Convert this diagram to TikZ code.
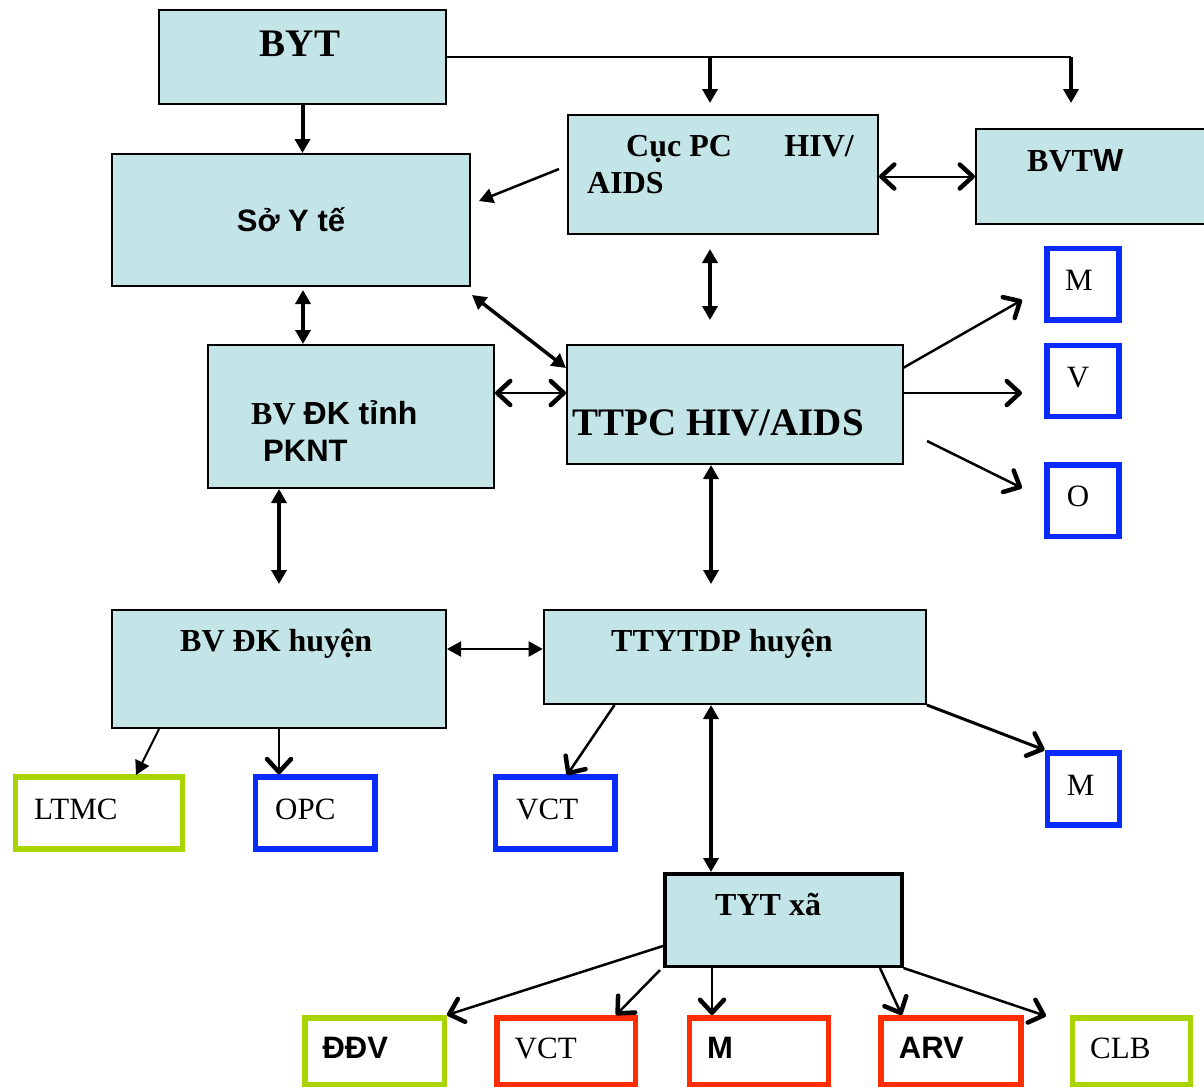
\documentclass[tikz,border=0pt]{standalone}
\usepackage{fontspec}
\setmainfont{Liberation Serif}
\setsansfont{Liberation Sans}
\usetikzlibrary{arrows.meta}
\definecolor{boxfill}{RGB}{196,229,232}
\definecolor{bblue}{RGB}{10,43,255}
\definecolor{bred}{RGB}{255,45,0}
\definecolor{bgreen}{RGB}{170,212,0}
\begin{document}
\begin{tikzpicture}[x=1pt,y=-1pt,
  cbox/.style={draw=black, line width=2pt, fill=boxfill, inner sep=0pt, rectangle},
  obox/.style={draw=#1, line width=5.5pt, fill=white, inner sep=0pt, rectangle},
  tx/.style={inner sep=0pt, anchor=base west},
  tc/.style={inner sep=0pt, anchor=base},
  tbig/.style={font=\bfseries\fontsize{39}{44}\selectfont},
  tb/.style={font=\bfseries\fontsize{32}{38}\selectfont},
  sb/.style={font=\sffamily\bfseries\fontsize{31}{36}\selectfont},
  tr/.style={font=\fontsize{31}{36}\selectfont},
  ln/.style={line width=2.5pt},
  thin/.style={line width=2pt},
  hv/.style={line width=4pt},
  ft/.style={-{Triangle[length=14pt,width=15pt]}},
  dft/.style={{Triangle[length=14pt,width=15pt]}-{Triangle[length=14pt,width=15pt]}},
  ob/.style={-{Straight Barb[length=13pt,width=24pt,line width=4.5pt,round]}},
  dob/.style={{Straight Barb[length=13pt,width=24pt,line width=4.5pt,round]}-{Straight Barb[length=13pt,width=24pt,line width=4.5pt,round]}}
]
\useasboundingbox[fill=white] (0,0) rectangle (1204,1088);

% main boxes
\node[cbox, minimum width=287pt, minimum height=94pt] (byt) at (302.5,57) {};
\node[cbox, minimum width=358pt, minimum height=132pt] (sy) at (291,220) {};
\node[cbox, minimum width=310pt, minimum height=119pt] (cuc) at (723,174.5) {};
\node[cbox, minimum width=243pt, minimum height=95pt] (bvtw) at (1097.5,176.5) {};
\node[cbox, minimum width=286pt, minimum height=143pt] (bvt) at (351,416.5) {};
\node[cbox, minimum width=335.5pt, minimum height=119pt] (ttpc) at (734.75,404.5) {};
\node[cbox, minimum width=334.4pt, minimum height=118pt] (bvh) at (278.8,669) {};
\node[cbox, minimum width=382.3pt, minimum height=94pt] (ttyt) at (734.85,657) {};
\node[cbox, line width=3.5pt, minimum width=237pt, minimum height=92.5pt] (tyt) at (783.25,920) {};

% coloured boxes
\node[obox=bblue, minimum width=72pt, minimum height=71.5pt] (mA) at (1083,284.3) {};
\node[obox=bblue, minimum width=72pt, minimum height=70.8pt] (vB) at (1083,380.85) {};
\node[obox=bblue, minimum width=72pt, minimum height=71.5pt] (oB) at (1083,500.8) {};
\node[obox=bblue, minimum width=72pt, minimum height=72.2pt] (mR) at (1083.3,788.85) {};
\node[obox=bgreen, minimum width=166.9pt, minimum height=71.9pt] (ltmc) at (98.8,813) {};
\node[obox=bblue, minimum width=119.6pt, minimum height=71.9pt] (opc) at (315.15,813) {};
\node[obox=bblue, minimum width=119.6pt, minimum height=71.9pt] (vctA) at (555.05,813) {};
\node[obox=bgreen, minimum width=139.5pt, minimum height=66.5pt] (ddv) at (374.5,1051) {};
\node[obox=bred, minimum width=138.5pt, minimum height=66.5pt] (vctB) at (566,1051) {};
\node[obox=bred, minimum width=138.9pt, minimum height=66.5pt] (mB) at (758.8,1051) {};
\node[obox=bred, minimum width=140.2pt, minimum height=66.5pt] (arv) at (950.85,1051) {};
\node[obox=bgreen, minimum width=117.9pt, minimum height=66.5pt] (clb) at (1131.3,1051) {};

% texts
\node[tc, tbig] (tbyt) at (300,56) {BYT};
\node[tc, sb] (tsy) at (291,231.5) {Sở Y tế};
\node[tx, tb] (tcuc1) at (626,156) {Cục PC};
\node[tb, inner sep=0pt, anchor=base east] (tcuc2) at (854,156) {HIV/};
\node[tx, tb] (tcuc3) at (587,193) {AIDS};
\node[tx, tb] (tbvtw) at (1027,171) {BVT{\sffamily W}};
\node[tx, tb] (tbvt1) at (251,424) {BV {\sffamily ĐK tỉnh}};
\node[tx, sb] (tbvt2) at (263,461) {PKNT};
\node[tbig, inner sep=0pt, anchor=base east] (tttpc) at (864,435) {TTPC HIV/AIDS};
\node[tc, tr] (tmA) at (1079,290) {M};
\node[tc, tr] (tvB) at (1078,387) {V};
\node[tc, tr] (toB) at (1078,506) {O};
\node[tc, tr] (tmR) at (1080.6,795) {M};
\node[tx, tb] (tbvh) at (180,651) {BV ĐK huyện};
\node[tx, tb] (tttyt) at (611,651) {TTYTDP huyện};
\node[tx, tr] (tltmc) at (34,819) {LTMC};
\node[tx, tr] (topc) at (275,819) {OPC};
\node[tx, tr] (tvctA) at (516,819) {VCT};
\node[tx, tb] (ttyt2) at (715,915) {TYT xã};
\node[tx, sb] (tddv) at (322.4,1058) {ĐĐV};
\node[tx, tr] (tvctB) at (514.5,1058) {VCT};
\node[tx, sb] (tmB) at (707,1058) {M};
\node[tx, sb] (tarv) at (898.7,1058) {ARV};
\node[tx, tr] (tclb) at (1090,1058) {CLB};

% coordinates
\coordinate (brA) at (710,57);
\coordinate (brB) at (1071,57);
\coordinate (cucTip) at (710,103);
\coordinate (bvtwTip) at (1071,103);
\coordinate (c2sA) at (559,169);
\coordinate (c2sB) at (479,201);
\coordinate (ctA) at (710,249);
\coordinate (ctB) at (710,320);
\coordinate (sbA) at (303,290);
\coordinate (stA) at (472,295);
\coordinate (stB) at (566,368);
\coordinate (btY) at (0,393);
\coordinate (bbB) at (279,584);
\coordinate (ttB) at (711,584);
\coordinate (tmS) at (903,368);
\coordinate (tmE) at (1022,300);
\coordinate (tvE) at (1022,393);
\coordinate (toS) at (927,441);
\coordinate (toE) at (1022,488);
\coordinate (hdY) at (0,649);
\coordinate (hlA) at (159,729);
\coordinate (hlB) at (136,775);
\coordinate (hoX) at (279,0);
\coordinate (tvcA) at (614.5,705);
\coordinate (tvcB) at (567,775);
\coordinate (tyX) at (711,0);
\coordinate (y1) at (0,946);
\coordinate (y2A) at (660,970);
\coordinate (y2B) at (616,1015);
\coordinate (y3X) at (712,0);
\coordinate (y4A) at (880,968);
\coordinate (y4B) at (901.7,1015);
\coordinate (y5B) at (1046,1016);

% connectors
\draw[thin] (byt.east |- brA) -- (brB);
\draw[line width=3.5pt, ft] (brA) -- (cucTip);
\draw[line width=3.5pt, ft] (brB) -- (bvtwTip);
\draw[hv, ft] (byt.south) -- (byt.south |- sy.north);
\draw[ln, ft] (c2sA) -- (c2sB);
\draw[thin, dob] (cuc.east |- bvtw.west) -- (bvtw.west);
\draw[hv, dft] (ctA) -- (ctB);
\draw[hv, dft] (sbA) -- (sbA |- bvt.north);
\draw[line width=3.5pt, dft] (stA) -- (stB);
\draw[thin, dob] (bvt.east |- btY) -- (ttpc.west |- btY);
\draw[hv, dft] (bvt.south -| bbB) -- (bbB);
\draw[hv, dft] (ttpc.south -| ttB) -- (ttB);
\draw[ln, ob] (tmS) -- (tmE);
\draw[ln, ob] (ttpc.east |- tvE) -- (tvE);
\draw[ln, ob] (toS) -- (toE);
\draw[thin, dft] (bvh.east |- hdY) -- (ttyt.west |- hdY);
\draw[thin, ft] (hlA) -- (hlB);
\draw[thin, ob] (bvh.south -| hoX) -- (opc.north -| hoX);
\draw[ln, ob] (tvcA) -- (tvcB);
\draw[hv, dft] (ttyt.south -| tyX) -- (tyt.north -| tyX);
\draw[line width=3pt, ob] (ttyt.south east) -- (mR.north west);
\draw[ln, ob] (tyt.west |- y1) -- (ddv.north east);
\draw[ln, ob] (y2A) -- (y2B);
\draw[thin, ob] (tyt.south -| y3X) -- (mB.north -| y3X);
\draw[ln, ob] (y4A) -- (y4B);
\draw[ln, ob] (tyt.south east) -- (y5B);
\end{tikzpicture}
\end{document}
